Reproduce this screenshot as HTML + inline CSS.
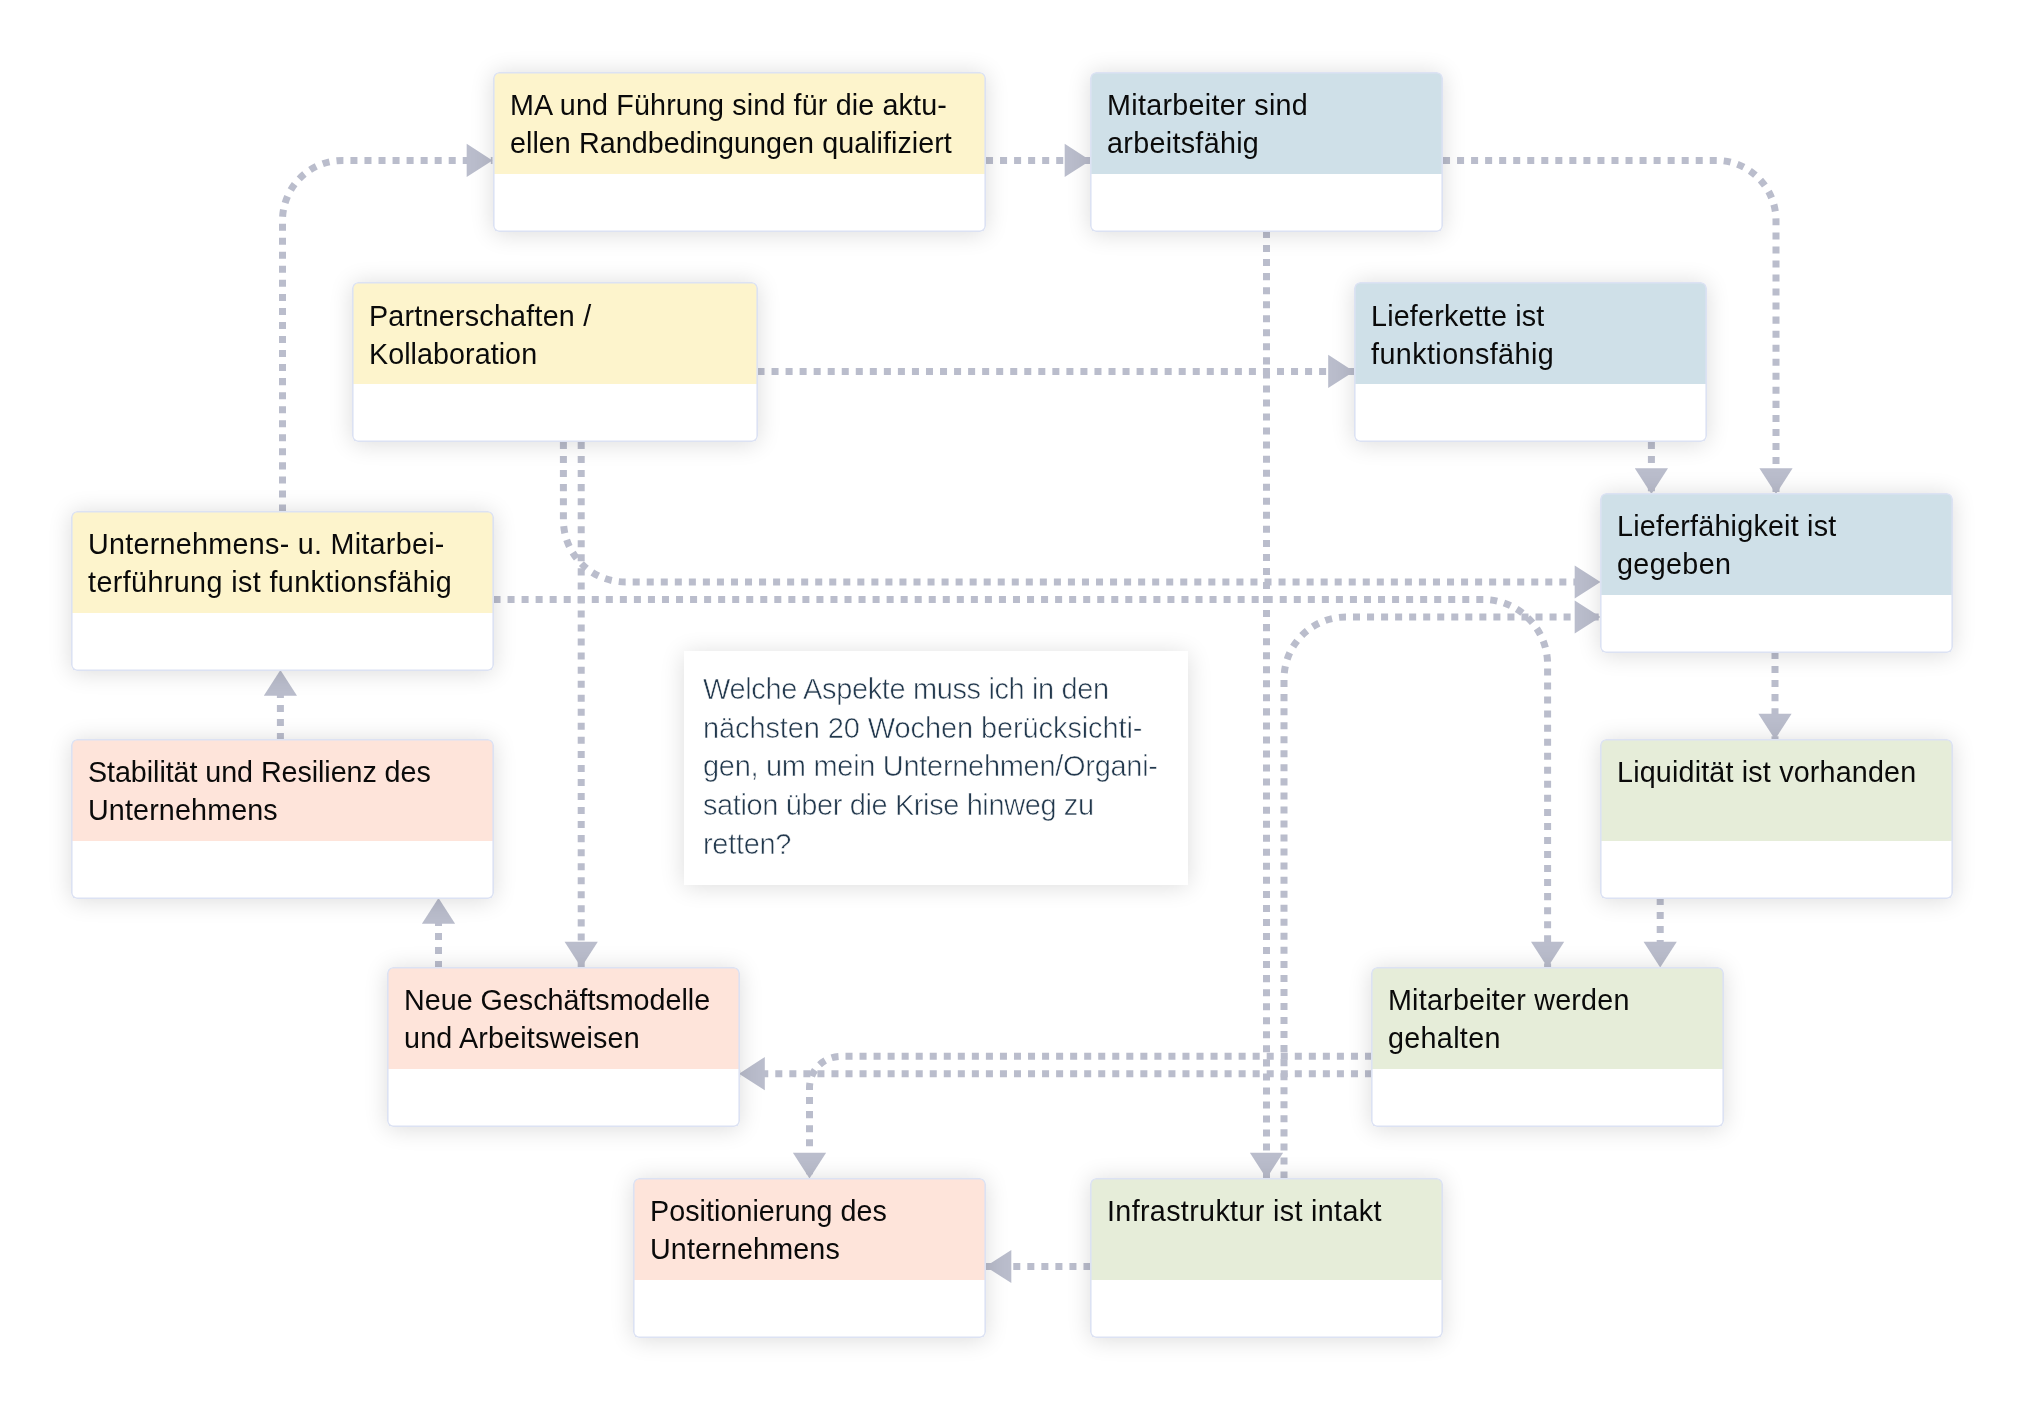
<!DOCTYPE html>
<html><head><meta charset="utf-8"><style>
html,body{margin:0;padding:0;background:#fff;width:2025px;height:1409px;overflow:hidden;position:relative}
.c{position:absolute;box-sizing:border-box;border-radius:6px;background:#fff;box-shadow:0 1.5px 23px rgba(0,0,0,0.14);overflow:hidden}
.h{position:absolute;left:1px;top:1px;right:1px;border-radius:5px 5px 0 0;height:101px}
.c::after{content:'';position:absolute;left:0;top:0;right:0;bottom:0;border-radius:6px;box-shadow:inset 0 0 0 1.6px #dce2f3}
.t{position:absolute;left:17px;font-family:"Liberation Sans", sans-serif;font-size:28.7px;line-height:38px;color:#0a0a0a;white-space:nowrap;-webkit-font-smoothing:antialiased;will-change:transform}
.q{position:absolute;left:683.5px;top:651px;width:504px;height:233.5px;background:#fff;box-shadow:0 1.5px 23px rgba(0,0,0,0.14)}
.qt{position:absolute;left:19px;font-family:"Liberation Sans", sans-serif;font-size:29.0px;line-height:38.7px;color:#22384d;-webkit-text-stroke:0.6px #fff;white-space:nowrap;-webkit-font-smoothing:antialiased;will-change:transform}
</style></head><body>

<svg width="2025" height="1409" style="position:absolute;left:0;top:0">
<path d="M282.5,511.5 L282.50,220.40 A60,60 0 0 1 342.50,160.40 L492.5,160.4" fill="none" stroke="#babdcc" stroke-width="7" stroke-dasharray="7.02 7.02"/>
<path d="M492.5,160.4 L466.70,177.00 L466.70,143.80 Z" fill="#babdcc"/>
<path d="M986,160.4 L1090.5,160.4" fill="none" stroke="#babdcc" stroke-width="7" stroke-dasharray="7.02 7.02"/>
<path d="M1090.5,160.4 L1064.70,177.00 L1064.70,143.80 Z" fill="#babdcc"/>
<path d="M1443,160.4 L1716.00,160.40 A60,60 0 0 1 1776.00,220.40 L1776,494" fill="none" stroke="#babdcc" stroke-width="7" stroke-dasharray="7.02 7.02"/>
<path d="M1776,494 L1759.40,468.20 L1792.60,468.20 Z" fill="#babdcc"/>
<path d="M1266.5,231 L1266.5,1178.5" fill="none" stroke="#babdcc" stroke-width="7" stroke-dasharray="7.02 7.02"/>
<path d="M1266.5,1178.5 L1249.90,1152.70 L1283.10,1152.70 Z" fill="#babdcc"/>
<path d="M757.5,371.4 L1354,371.4" fill="none" stroke="#babdcc" stroke-width="7" stroke-dasharray="7.02 7.02"/>
<path d="M1354,371.4 L1328.20,388.00 L1328.20,354.80 Z" fill="#babdcc"/>
<path d="M563.4,442 L563.40,520.00 A62,62 0 0 0 625.40,582.00 L1600.5,582" fill="none" stroke="#babdcc" stroke-width="7" stroke-dasharray="7.02 7.02"/>
<path d="M1600.5,582 L1574.70,598.60 L1574.70,565.40 Z" fill="#babdcc"/>
<path d="M581.2,442 L581.2,967.5" fill="none" stroke="#babdcc" stroke-width="7" stroke-dasharray="7.02 7.02"/>
<path d="M581.2,967.5 L564.60,941.70 L597.80,941.70 Z" fill="#babdcc"/>
<path d="M1651.4,442 L1651.4,494" fill="none" stroke="#babdcc" stroke-width="7" stroke-dasharray="7.02 7.02"/>
<path d="M1651.4,494 L1634.80,468.20 L1668.00,468.20 Z" fill="#babdcc"/>
<path d="M493.5,599.4 L1482.60,599.40 A65,65 0 0 1 1547.60,664.40 L1547.6,967.5" fill="none" stroke="#babdcc" stroke-width="7" stroke-dasharray="7.02 7.02"/>
<path d="M1547.6,967.5 L1531.00,941.70 L1564.20,941.70 Z" fill="#babdcc"/>
<path d="M1284,1178.5 L1284.00,679.00 A62,62 0 0 1 1346.00,617.00 L1600.5,617" fill="none" stroke="#babdcc" stroke-width="7" stroke-dasharray="7.02 7.02"/>
<path d="M1600.5,617 L1574.70,633.60 L1574.70,600.40 Z" fill="#babdcc"/>
<path d="M1775,652 L1775,739.5" fill="none" stroke="#babdcc" stroke-width="7" stroke-dasharray="7.02 7.02"/>
<path d="M1775,739.5 L1758.40,713.70 L1791.60,713.70 Z" fill="#babdcc"/>
<path d="M280.4,740 L280.4,670" fill="none" stroke="#babdcc" stroke-width="7" stroke-dasharray="7.02 7.02"/>
<path d="M280.4,670 L297.00,695.80 L263.80,695.80 Z" fill="#babdcc"/>
<path d="M438.5,968 L438.5,898" fill="none" stroke="#babdcc" stroke-width="7" stroke-dasharray="7.02 7.02"/>
<path d="M438.5,898 L455.10,923.80 L421.90,923.80 Z" fill="#babdcc"/>
<path d="M1660.2,898 L1660.2,967.5" fill="none" stroke="#babdcc" stroke-width="7" stroke-dasharray="7.02 7.02"/>
<path d="M1660.2,967.5 L1643.60,941.70 L1676.80,941.70 Z" fill="#babdcc"/>
<path d="M1372,1056.3 L841.00,1056.30 A31.5,31.5 0 0 0 809.50,1087.80 L809.5,1178.5" fill="none" stroke="#babdcc" stroke-width="7" stroke-dasharray="7.02 7.02"/>
<path d="M809.5,1178.5 L792.90,1152.70 L826.10,1152.70 Z" fill="#babdcc"/>
<path d="M1372,1073.7 L739,1073.7" fill="none" stroke="#babdcc" stroke-width="7" stroke-dasharray="7.02 7.02"/>
<path d="M739,1073.7 L764.80,1057.10 L764.80,1090.30 Z" fill="#babdcc"/>
<path d="M1090.5,1266.5 L985.5,1266.5" fill="none" stroke="#babdcc" stroke-width="7" stroke-dasharray="7.02 7.02"/>
<path d="M985.5,1266.5 L1011.30,1249.90 L1011.30,1283.10 Z" fill="#babdcc"/>
</svg>
<div class="c" style="left:492.5px;top:72px;width:493.5px;height:160px"><div class="h" style="background:#fdf4cc"></div><div class="t" style="top:14px;letter-spacing:0.147px">MA und Führung sind für die aktu-</div><div class="t" style="top:52px;letter-spacing:0.049px">ellen Randbedingungen qualifiziert</div></div>
<div class="c" style="left:1090px;top:72px;width:353px;height:160px"><div class="h" style="background:#cfe0e8"></div><div class="t" style="top:14px;letter-spacing:0.314px">Mitarbeiter sind</div><div class="t" style="top:52px;letter-spacing:0.319px">arbeitsfähig</div></div>
<div class="c" style="left:352px;top:282px;width:406px;height:160px"><div class="h" style="background:#fdf4cc"></div><div class="t" style="top:15px;letter-spacing:0.236px">Partnerschaften /</div><div class="t" style="top:53px;letter-spacing:0.052px">Kollaboration</div></div>
<div class="c" style="left:1354px;top:282px;width:352.5px;height:160px"><div class="h" style="background:#cfe0e8"></div><div class="t" style="top:15px;letter-spacing:0.193px">Lieferkette ist</div><div class="t" style="top:53px;letter-spacing:0.432px">funktionsfähig</div></div>
<div class="c" style="left:71px;top:510.8px;width:423px;height:160px"><div class="h" style="background:#fdf4cc"></div><div class="t" style="top:14px;letter-spacing:0.290px">Unternehmens- u. Mitarbei-</div><div class="t" style="top:52px;letter-spacing:0.406px">terführung ist funktionsfähig</div></div>
<div class="c" style="left:1599.5px;top:493px;width:353px;height:160px"><div class="h" style="background:#cfe0e8"></div><div class="t" style="top:14px;letter-spacing:0.219px">Lieferfähigkeit ist</div><div class="t" style="top:52px;letter-spacing:0.384px">gegeben</div></div>
<div class="c" style="left:71px;top:739px;width:423px;height:160px"><div class="h" style="background:#fee4da"></div><div class="t" style="top:14px;letter-spacing:-0.063px">Stabilität und Resilienz des</div><div class="t" style="top:52px;letter-spacing:0.140px">Unternehmens</div></div>
<div class="c" style="left:1599.5px;top:739px;width:353px;height:160px"><div class="h" style="background:#e6edd9"></div><div class="t" style="top:14px;letter-spacing:0.179px">Liquidität ist vorhanden</div></div>
<div class="c" style="left:387px;top:967px;width:353px;height:160px"><div class="h" style="background:#fee4da"></div><div class="t" style="top:14px;letter-spacing:0.000px">Neue Geschäftsmodelle</div><div class="t" style="top:52px;letter-spacing:0.174px">und Arbeitsweisen</div></div>
<div class="c" style="left:1371px;top:967px;width:353px;height:160px"><div class="h" style="background:#e6edd9"></div><div class="t" style="top:14px;letter-spacing:0.227px">Mitarbeiter werden</div><div class="t" style="top:52px;letter-spacing:0.332px">gehalten</div></div>
<div class="c" style="left:633px;top:1178px;width:353px;height:160px"><div class="h" style="background:#fee4da"></div><div class="t" style="top:14px;letter-spacing:0.048px">Positionierung des</div><div class="t" style="top:52px;letter-spacing:0.143px">Unternehmens</div></div>
<div class="c" style="left:1090px;top:1178px;width:353px;height:160px"><div class="h" style="background:#e6edd9"></div><div class="t" style="top:14px;letter-spacing:0.354px">Infrastruktur ist intakt</div></div>
<div class="q"><div class="qt" style="top:19.00px;letter-spacing:-0.371px">Welche Aspekte muss ich in den</div><div class="qt" style="top:57.70px;letter-spacing:-0.106px">nächsten 20 Wochen berücksichti-</div><div class="qt" style="top:96.40px;letter-spacing:-0.300px">gen, um mein Unternehmen/Organi-</div><div class="qt" style="top:135.10px;letter-spacing:-0.400px">sation über die Krise hinweg zu</div><div class="qt" style="top:173.80px;letter-spacing:-0.302px">retten?</div></div>
</body></html>
